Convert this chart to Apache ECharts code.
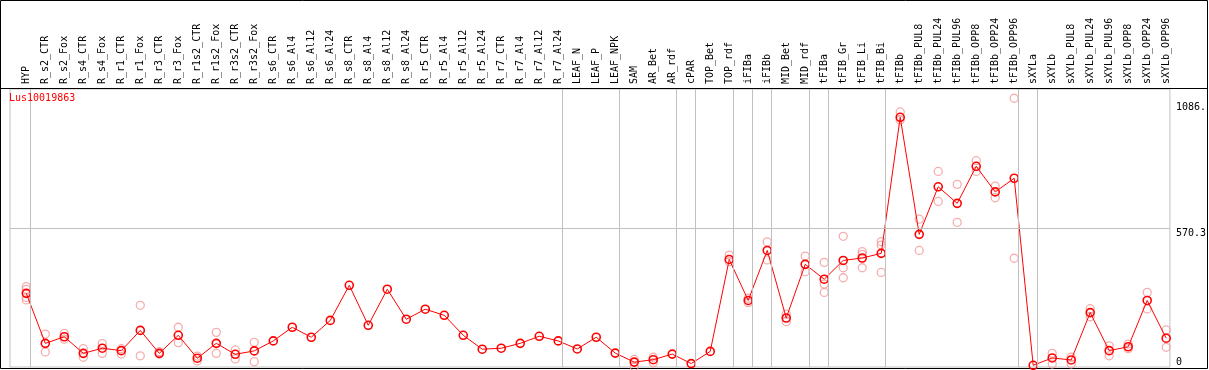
<!DOCTYPE html>
<html>
<head>
<meta charset="utf-8">
<script src="https://cdn.jsdelivr.net/npm/echarts@6/dist/echarts.min.js"></script>
<style>
  html, body { margin: 0; padding: 0; background: #fff; }
  #chart { width: 1209px; height: 370px; }
</style>
</head>
<body>
<div id="chart"></div>
<script>
// sample names along the top
const categories = [
  'HYP', 'R_s2_CTR', 'R_s2_Fox', 'R_s4_CTR', 'R_s4_Fox', 'R_r1_CTR', 'R_r1_Fox', 'R_r3_CTR', 'R_r3_Fox',
  'R_r1s2_CTR', 'R_r1s2_Fox', 'R_r3s2_CTR', 'R_r3s2_Fox',
  'R_s6_CTR', 'R_s6_Al4', 'R_s6_Al12', 'R_s6_Al24', 'R_s8_CTR', 'R_s8_Al4', 'R_s8_Al12', 'R_s8_Al24',
  'R_r5_CTR', 'R_r5_Al4', 'R_r5_Al12', 'R_r5_Al24', 'R_r7_CTR', 'R_r7_Al4', 'R_r7_Al12', 'R_r7_Al24',
  'LEAF_N', 'LEAF_P', 'LEAF_NPK', 'SAM', 'AR_Bet', 'AR_rdf', 'cPAR', 'TOP_Bet', 'TOP_rdf',
  'iFIBa', 'iFIBb', 'MID_Bet', 'MID_rdf', 'tFIBa', 'tFIB_Gr', 'tFIB_Li', 'tFIB_Bi',
  'tFIBb', 'tFIBb_PUL8', 'tFIBb_PUL24', 'tFIBb_PUL96', 'tFIBb_OPP8', 'tFIBb_OPP24', 'tFIBb_OPP96',
  'sXYLa', 'sXYLb', 'sXYLb_PUL8', 'sXYLb_PUL24', 'sXYLb_PUL96', 'sXYLb_OPP8', 'sXYLb_OPP24', 'sXYLb_OPP96'
];

// mean expression per sample
const means = [
  302, 97, 124, 56, 77, 67, 150, 56, 130, 36, 97, 52, 66, 107, 163,
  122, 191, 335, 171, 319, 196, 237, 212, 130, 73, 77, 97, 126, 107,
  74, 122, 57,
  20, 30, 53,
  14,
  64, 441,
  273, 478,
  201, 421,
  360,
  437, 447, 466,
  1024, 544, 739, 671, 823, 718, 774,
  7,
  37, 29, 223, 67, 83, 273, 118
];

// individual replicates (only where they show apart from the mean)
const replicates = [
  [330, 318, 285, 275], [135, 62], [138, 114], [75, 40], [96, 56], [75, 53], [253, 46], [63, 53], [163, 100],
  [45, 25], [142, 56], [70, 33], [101, 22],
  [], [], [], [], [], [], [], [],
  [], [], [], [], [], [], [], [],
  [], [], [], [31, 1], [40, 18], [], [], [], [459, 432],
  [282, 264], [513, 439], [217, 186], [455, 391], [429, 340, 306], [536, 407, 366], [473, 462, 407], [514, 500, 388],
  [1046, 1013], [606, 478], [802, 679], [749, 593], [846, 802], [742, 694], [1102, 446],
  [],
  [56, 12], [40, 12], [239, 206], [87, 46], [94, 75], [306, 238], [152, 81]
];

// last sample index of each group (a grey divider follows it)
const groupEnds = [0, 28, 31, 34, 35, 37, 38, 39, 41, 42, 45, 52, 53];

const yTicks = [0, 570.3, 1086];
const yTickLabels = ['0', '570.3', '1086.'];
const geneName = 'Lus10019863';

const MONO = 'DejaVu Sans Mono';
const chart = echarts.init(document.getElementById('chart'));

const repData = [];
replicates.forEach((arr, i) => arr.forEach(v => repData.push([i, v])));

const yLabel = (vals, vAlign) => ({
  type: 'value',
  position: 'right',
  min: 0,
  max: 1140,
  axisLine: { show: false },
  axisTick: { show: false },
  splitLine: { show: false },
  axisLabel: {
    customValues: vals,
    formatter: v => yTickLabels[yTicks.indexOf(v)],
    margin: 6,
    align: 'left',
    verticalAlign: vAlign,
    fontFamily: MONO,
    fontSize: 10,
    color: '#000'
  }
});

chart.setOption({
  animation: false,
  backgroundColor: '#fff',
  title: {
    text: geneName,
    left: 9,
    top: 93,
    padding: 0,
    textStyle: { color: '#ff0000', fontFamily: MONO, fontSize: 10, fontWeight: 'normal' }
  },
  grid: {
    left: 10, right: 39, top: 89, bottom: 3,
    show: true, borderColor: '#c0c0c0', borderWidth: 1
  },
  xAxis: {
    type: 'value',
    position: 'top',
    min: -0.858,
    max: 60.195,
    axisLine: { show: false },
    axisTick: { show: false },
    splitLine: { show: false },
    axisLabel: {
      customValues: categories.map((c, i) => i),
      formatter: v => categories[v],
      rotate: 90,
      margin: 5,
      fontFamily: MONO,
      fontSize: 10,
      color: '#000'
    }
  },
  yAxis: [yLabel([570.3, 1086], 'top'), yLabel([0], 'bottom')],
  graphic: [
    { type: 'rect', shape: { x: 0.5, y: 0.5, width: 1207, height: 368 }, style: { fill: null, stroke: '#000', lineWidth: 1 }, silent: true },
    { type: 'line', shape: { x1: 0, y1: 88.5, x2: 1208, y2: 88.5 }, style: { stroke: '#000', lineWidth: 1 }, silent: true, z: 10 }
  ],
  series: [
    {
      // group dividers and the mid reference line, kept underneath the data
      type: 'line',
      data: [],
      z: 1,
      silent: true,
      markLine: {
        silent: true,
        symbol: 'none',
        label: { show: false },
        lineStyle: { color: '#c0c0c0', type: 'solid', width: 1 },
        data: groupEnds.map(i => ({ xAxis: i + 0.21 })).concat([{ yAxis: yTicks[1] }])
      }
    },
    {
      type: 'scatter',
      data: repData,
      symbol: 'circle',
      symbolSize: 8,
      itemStyle: { color: 'rgba(0,0,0,0)', borderColor: '#f29a9a', borderWidth: 1.3 },
      z: 2,
      silent: true
    },
    {
      type: 'line',
      data: means.map((v, i) => [i, v]),
      symbol: 'circle',
      symbolSize: 8,
      lineStyle: { color: '#ff0000', width: 1 },
      itemStyle: { color: 'rgba(0,0,0,0)', borderColor: '#ff0000', borderWidth: 1.6 },
      z: 3,
      silent: true
    }
  ]
});
</script>
</body>
</html>
